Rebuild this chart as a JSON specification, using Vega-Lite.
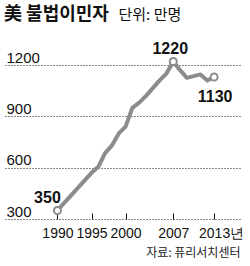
{
  "$schema": "https://vega.github.io/schema/vega-lite/v6.json",
  "width": 235,
  "height": 154,
  "autosize": {"type": "none"},
  "padding": {"left": 5, "top": 65, "right": 10, "bottom": 47},
  "background": "white",
  "title": {
    "text": "美 불법이민자",
    "anchor": "start",
    "frame": "group",
    "font": "Noto Sans CJK KR",
    "fontSize": 18,
    "fontWeight": "bold",
    "color": "#111111",
    "offset": -17,
    "dx": -1
  },
  "config": {"view": {"stroke": null}},
  "data": {
    "values": [
      {"year": 1990, "value": 350},
      {"year": 1995, "value": 570},
      {"year": 1996, "value": 605},
      {"year": 1997, "value": 685},
      {"year": 1998, "value": 730},
      {"year": 1999, "value": 800},
      {"year": 2000, "value": 840},
      {"year": 2001, "value": 950},
      {"year": 2002, "value": 980},
      {"year": 2003, "value": 1020},
      {"year": 2004, "value": 1065},
      {"year": 2005, "value": 1110},
      {"year": 2006, "value": 1150},
      {"year": 2007, "value": 1220},
      {"year": 2008, "value": 1170},
      {"year": 2009, "value": 1125},
      {"year": 2010, "value": 1135},
      {"year": 2011, "value": 1145},
      {"year": 2012, "value": 1110},
      {"year": 2013, "value": 1130}
    ]
  },
  "encoding": {
    "x": {
      "field": "year",
      "type": "quantitative",
      "scale": {"domain": [1982.3, 2016.8], "nice": false, "zero": false},
      "axis": {
        "values": [1990, 1995, 2000, 2007, 2013],
        "format": "d",
        "labelExpr": "datum.value == 2013 ? '2013년' : datum.label",
        "labelOffset": {"condition": {"test": "datum.value == 2013", "value": 7}, "value": 0},
        "labelOverlap": false,
        "labelFlush": false,
        "domain": false,
        "grid": false,
        "ticks": true,
        "tickSize": -6,
        "tickColor": "#111111",
        "tickWidth": 1,
        "labelPadding": 13,
        "labelFont": "Liberation Sans",
        "labelFontSize": 14,
        "labelColor": "#111111",
        "title": "자료: 퓨리서치센터",
        "titleX": 235,
        "titleY": 37,
        "titleAlign": "right",
        "titleAnchor": null,
        "titleBaseline": "alphabetic",
        "titleFont": "Noto Sans CJK KR",
        "titleFontSize": 12,
        "titleFontWeight": "normal",
        "titleColor": "#222222"
      }
    },
    "y": {
      "field": "value",
      "type": "quantitative",
      "scale": {"domain": [300, 1200], "nice": false, "zero": false},
      "axis": {
        "values": [300, 600, 900, 1200],
        "format": "d",
        "grid": true,
        "gridColor": "#111111",
        "gridDash": [1, 2],
        "gridWidth": 1,
        "domain": false,
        "ticks": false,
        "tickSize": 0,
        "labelAlign": "left",
        "labelBaseline": "alphabetic",
        "labelPadding": -1,
        "labelOffset": -3,
        "labelFont": "Liberation Sans",
        "labelFontSize": 15,
        "labelColor": "#111111",
        "title": "단위: 만명",
        "titleAngle": 0,
        "titleX": 113,
        "titleY": -46,
        "titleAlign": "left",
        "titleAnchor": null,
        "titleBaseline": "alphabetic",
        "titleFont": "Noto Sans CJK KR",
        "titleFontSize": 15,
        "titleFontWeight": "normal",
        "titleColor": "#111111"
      }
    }
  },
  "layer": [
    {
      "mark": {"type": "line", "color": "#8c8c8c", "strokeWidth": 4, "strokeJoin": "round", "strokeCap": "round"}
    },
    {
      "transform": [{"filter": "datum.year == 1990 || datum.year == 2007 || datum.year == 2013"}],
      "mark": {"type": "point", "filled": true, "fill": "white", "stroke": "#8c8c8c", "strokeWidth": 2, "size": 50, "opacity": 1}
    },
    {
      "transform": [{"filter": "datum.year == 1990"}],
      "mark": {"type": "text", "font": "Liberation Sans", "fontSize": 16, "fontWeight": "bold", "color": "#111111", "align": "center", "baseline": "alphabetic", "dx": -10, "dy": -7},
      "encoding": {"text": {"field": "value", "type": "quantitative"}}
    },
    {
      "transform": [{"filter": "datum.year == 2007"}],
      "mark": {"type": "text", "font": "Liberation Sans", "fontSize": 16, "fontWeight": "bold", "color": "#111111", "align": "center", "baseline": "alphabetic", "dx": -3, "dy": -8},
      "encoding": {"text": {"field": "value", "type": "quantitative"}}
    },
    {
      "transform": [{"filter": "datum.year == 2013"}],
      "mark": {"type": "text", "font": "Liberation Sans", "fontSize": 16, "fontWeight": "bold", "color": "#111111", "align": "center", "baseline": "alphabetic", "dx": 1, "dy": 25},
      "encoding": {"text": {"field": "value", "type": "quantitative"}}
    }
  ]
}
